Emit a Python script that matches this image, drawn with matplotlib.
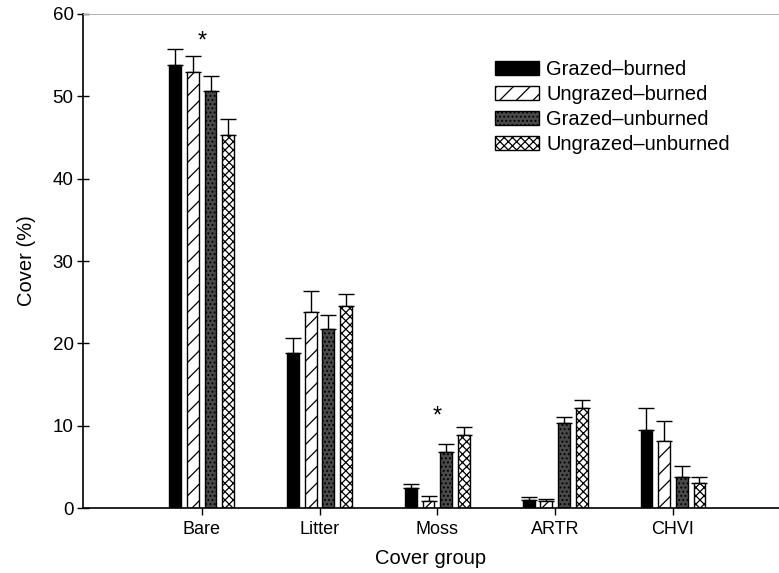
import numpy as np
import matplotlib.pyplot as plt

plt.rcParams['font.family'] = ['Liberation Sans', 'DejaVu Sans']
plt.rcParams['hatch.linewidth'] = 0.9

# Donnees
groups = ["Bare", "Litter", "Moss", "ARTR", "CHVI"]
treatments = ["Grazed\u2013burned", "Ungrazed\u2013burned",
              "Grazed\u2013unburned", "Ungrazed\u2013unburned"]

grazed_burned = [53.8, 18.8, 2.4, 1.0, 9.5]
ungrazed_burned = [52.9, 23.8, 0.9, 0.85, 8.1]
grazed_unburned = [50.7, 21.8, 6.8, 10.3, 3.8]
ungrazed_unburned = [45.3, 24.5, 8.9, 12.2, 3.0]

err_grazed_burned = [2.0, 1.9, 0.5, 0.3, 2.7]
err_ungrazed_burned = [2.0, 2.5, 0.5, 0.3, 2.5]
err_grazed_unburned = [1.8, 1.7, 1.0, 0.7, 1.3]
err_ungrazed_unburned = [1.9, 1.5, 1.0, 0.9, 0.8]

# asterisques (groupe, hauteur)
stars = [(0, 56.6), (2, 11.1)]

values = [grazed_burned, ungrazed_burned, grazed_unburned, ungrazed_unburned]
errors = [err_grazed_burned, err_ungrazed_burned,
          err_grazed_unburned, err_ungrazed_unburned]
styles = [
    dict(color="black", hatch=None),
    dict(color="white", hatch="//"),
    dict(color="#4a4a4a", hatch="...."),
    dict(color="white", hatch="xxxx"),
]

fig = plt.figure(figsize=(7.79, 5.73), dpi=100)
ax = fig.add_axes([0.1062, 0.1134, 0.8938, 0.8622])

x = np.arange(len(groups))
pitch = 0.15
width = 0.1
for k in range(4):
    pos = x + (k - 1.5) * pitch
    ax.bar(pos, values[k], width, facecolor=styles[k]["color"],
           edgecolor="black", linewidth=1.0, hatch=styles[k]["hatch"],
           label=treatments[k], zorder=2)
    ax.errorbar(pos, values[k], yerr=[np.zeros(5), errors[k]], fmt="none",
                ecolor="black", elinewidth=1.0, capsize=5.8, capthick=1.0,
                zorder=1)

for g, h in stars:
    ax.text(x[g], h, "*", ha="center", va="center", fontsize=17)

ax.set_xlim(-1.01, 4.9)
ax.set_ylim(0, 60)
ax.set_yticks(range(0, 61, 10))
ax.set_xticks(x)
ax.set_xticklabels(groups, fontsize=13)
ax.tick_params(axis="y", direction="inout", length=9, width=1, labelsize=13.5, pad=2)
ax.tick_params(axis="x", direction="out", length=5, width=1, pad=4)

ax.spines["right"].set_visible(False)
ax.spines["top"].set_color("#b0b0b0")
ax.spines["top"].set_linewidth(0.7)
ax.spines["left"].set_linewidth(1.2)
ax.spines["bottom"].set_linewidth(1.2)

ax.set_xlabel("Cover group", fontsize=14.5, labelpad=8)
ax.set_ylabel("Cover (%)", fontsize=14.5, labelpad=12)

leg = ax.legend(loc="upper left", bbox_to_anchor=(0.635, 0.895),
                bbox_transform=fig.transFigure, frameon=False, fontsize=14.5,
                handlelength=2.2, handleheight=0.7, handletextpad=0.35,
                labelspacing=0.3, borderpad=0, borderaxespad=0)

plt.savefig("out.png", dpi=100)
